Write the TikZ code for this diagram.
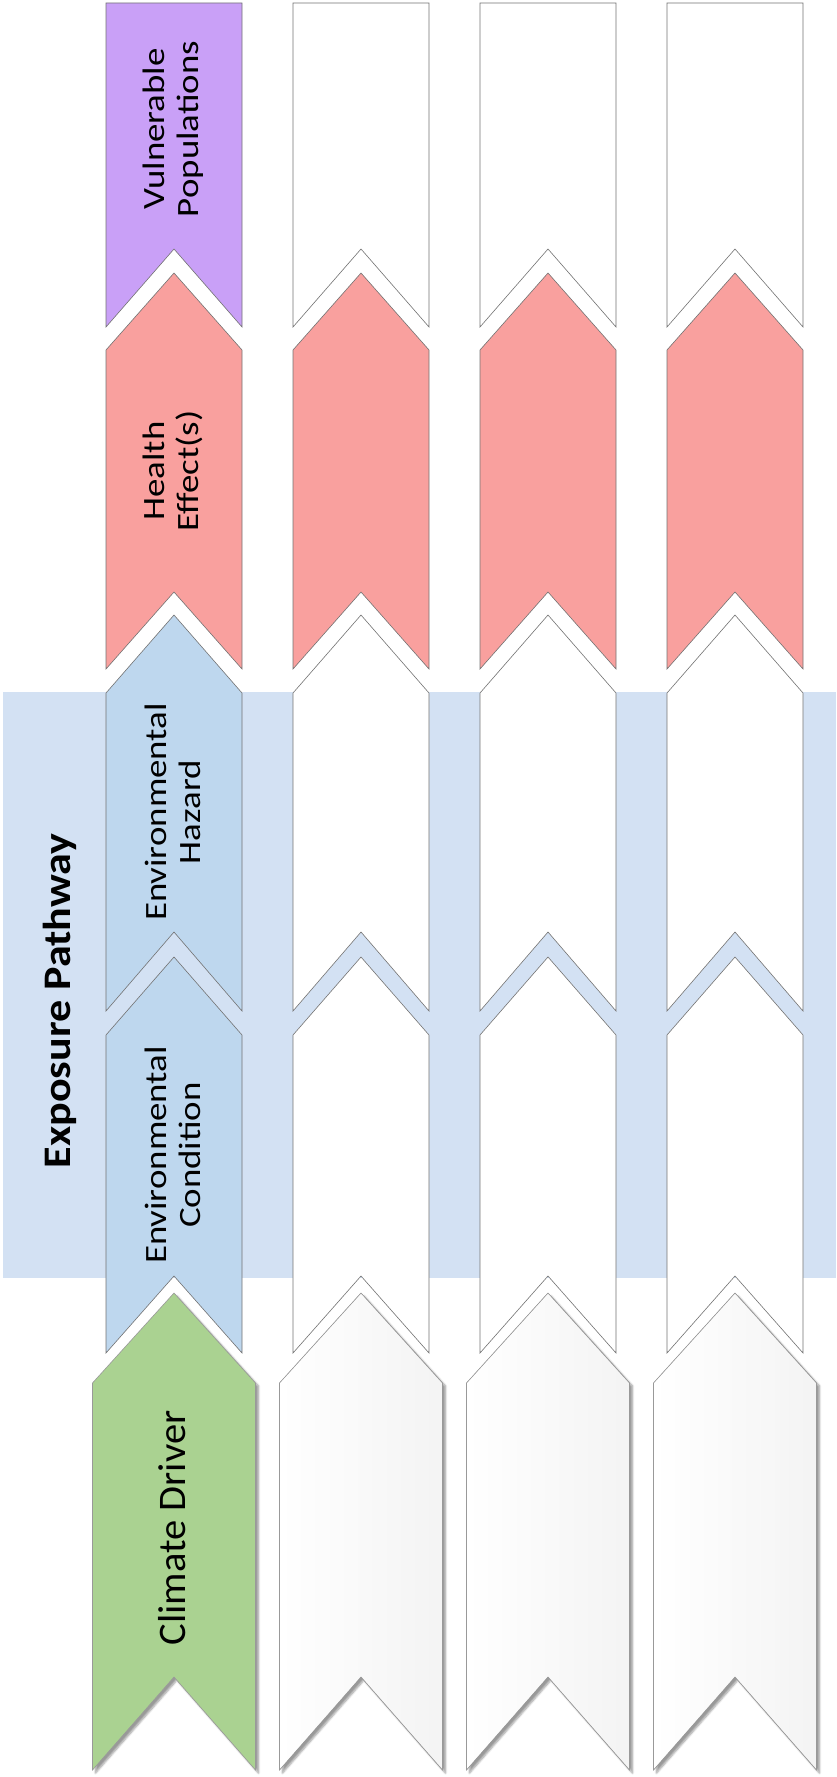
\documentclass[tikz,border=0pt]{standalone}
\usepackage{fontspec}
\setmainfont{Carlito}
\newfontfamily\chevfont[FakeStretch=1.19]{Carlito}
\newfontfamily\climfont[FakeStretch=1.04]{Carlito}
\newfontfamily\titlefont[FakeStretch=1.13]{Carlito}
\usetikzlibrary{shadows.blur}
\definecolor{bandblue}{RGB}{211,225,243}
\definecolor{purp}{RGB}{201,160,247}
\definecolor{pinkc}{RGB}{249,160,158}
\definecolor{bluec}{RGB}{190,215,238}
\definecolor{greenc}{RGB}{170,210,145}
\tikzset{
  chev/.style={draw=black!55, line width=0.6pt},
  clim/.style={draw=black!40, line width=0.6pt, blur shadow={shadow xshift=3pt, shadow yshift=-3pt, shadow blur steps=6, shadow opacity=40}},
  climgreen/.style={clim, fill=greenc},
  climwhite/.style={clim, left color=white, right color=gray!9},
  lab/.style={rotate=90, align=center, inner sep=0pt, font=\chevfont\fontsize{31}{34}\selectfont},
  climlab/.style={rotate=90, align=center, inner sep=0pt, font=\climfont\fontsize{39}{42}\selectfont}
}
\begin{document}
\begin{tikzpicture}[x=1pt,y=-1pt]
\useasboundingbox (0,0) rectangle (836,1777);
% exposure pathway band
\fill[bandblue] (3,692) rectangle (836,1278);
\node[rotate=90, anchor=base, inner sep=0pt, font=\titlefont\bfseries\fontsize{39}{42}\selectfont] (title) at (70,1001) {Exposure Pathway};
% chevrons
\foreach \c/\vp/\eh/\ec/\cd in {174/purp/bluec/bluec/climgreen, 361/white/white/white/climwhite, 548/white/white/white/climwhite, 735/white/white/white/climwhite}{
  % vulnerable populations
  \filldraw[chev, fill=\vp] (\c-68,3) -- (\c+68,3) -- (\c+68,327) -- (\c,249) -- (\c-68,327) -- cycle;
  % health effects
  \filldraw[chev, fill=pinkc] (\c,273) -- (\c+68,350) -- (\c+68,669) -- (\c,592) -- (\c-68,669) -- (\c-68,350) -- cycle;
  % environmental hazard
  \filldraw[chev, fill=\eh] (\c,615) -- (\c+68,693) -- (\c+68,1011) -- (\c,932) -- (\c-68,1011) -- (\c-68,693) -- cycle;
  % environmental condition
  \filldraw[chev, fill=\ec] (\c,957) -- (\c+68,1035) -- (\c+68,1353) -- (\c,1276) -- (\c-68,1353) -- (\c-68,1035) -- cycle;
  % climate driver
  \filldraw[\cd] (\c,1293) -- (\c+81.5,1383) -- (\c+81.5,1770) -- (\c,1677) -- (\c-81.5,1770) -- (\c-81.5,1383) -- cycle;
}
% labels
\node[lab] (vp) at (173,129) {Vulnerable\\Populations};
\node[lab] (he) at (173,471) {Health\\Effect(s)};
\node[lab] (eh) at (173,812) {Environmental\\Hazard};
\node[lab] (ec) at (173,1155) {Environmental\\Condition};
\node[climlab] (cd) at (172,1528) {Climate Driver};
\end{tikzpicture}
\end{document}
